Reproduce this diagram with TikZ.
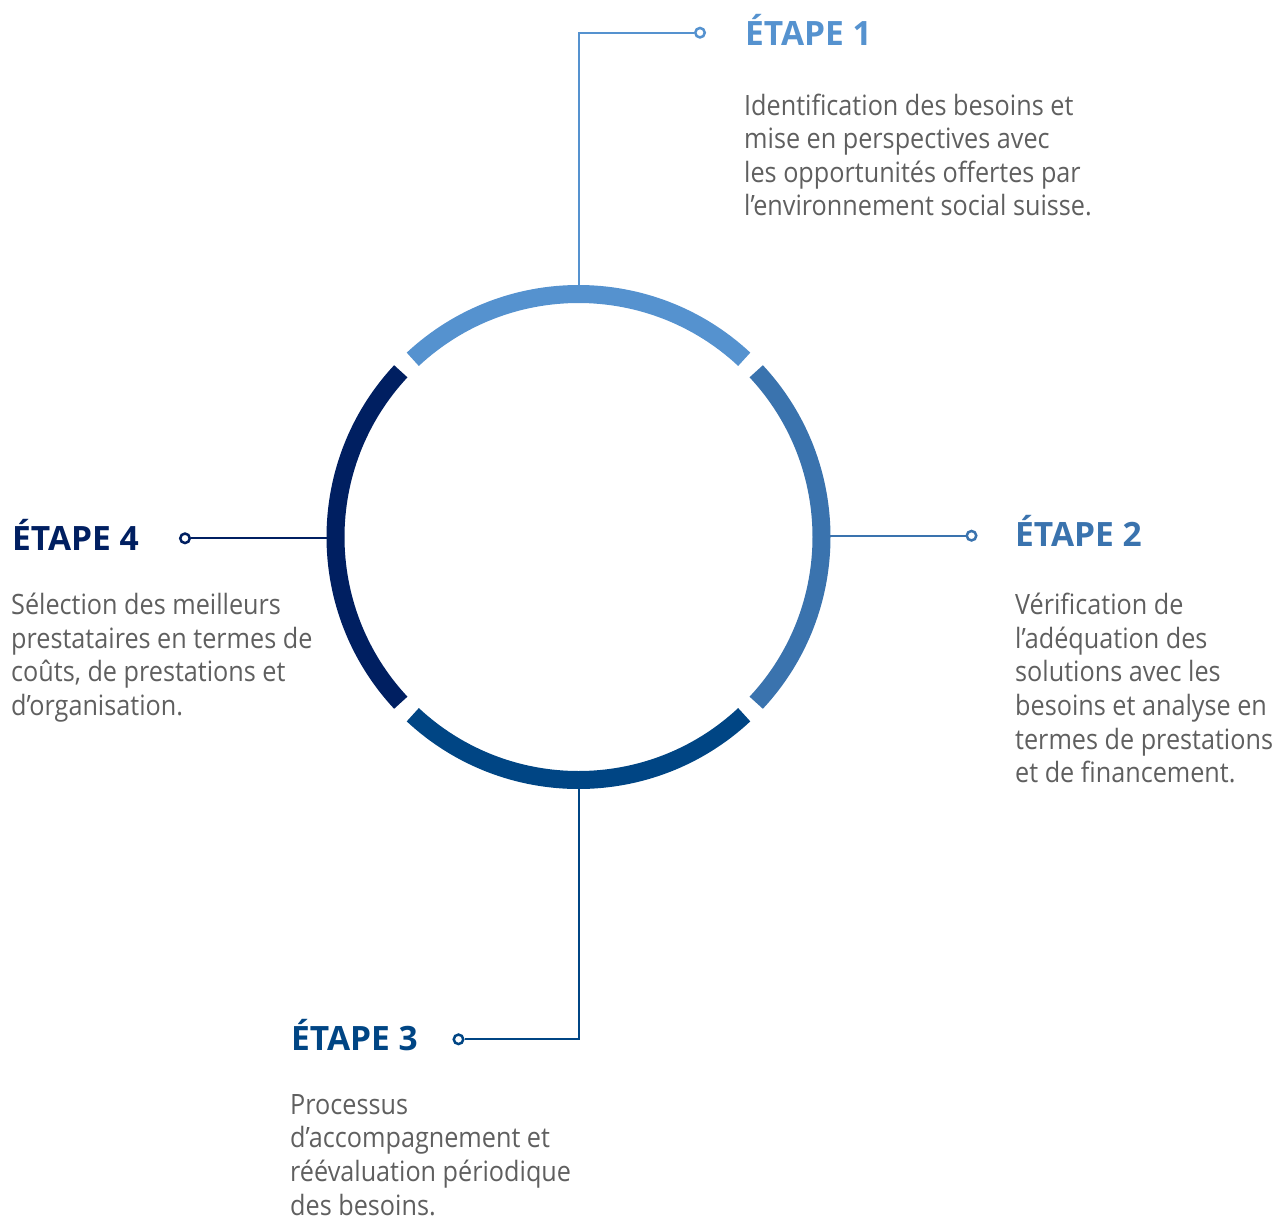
\documentclass[tikz,border=0pt]{standalone}
\usepackage{fontspec}
\setmainfont{Open Sans}
\newfontfamily\bodyfont{Open Sans}[FakeStretch=0.9]
\usetikzlibrary{positioning}

\definecolor{stepone}{RGB}{85,146,207}
\definecolor{steptwo}{RGB}{58,115,174}
\definecolor{stepthree}{RGB}{0,69,132}
\definecolor{stepfour}{RGB}{0,31,97}
\definecolor{txtgray}{RGB}{95,95,95}

\tikzset{
  ring/.style={line width=18pt},
  link/.style={line width=2pt},
  dot/.style={circle, draw=#1, line width=2.5pt, fill=white, inner sep=0pt, minimum size=9.5pt},
  etape/.style={anchor=base west, inner sep=0pt, font=\fontsize{33.5}{33.5}\selectfont\bfseries},
  descr/.style={anchor=north west, inner sep=0pt, align=left, text=txtgray,
    font=\bodyfont\fontsize{28}{33.6}\selectfont},
}

\begin{document}
\begin{tikzpicture}[x=1pt, y=1pt]
\useasboundingbox (0,0) rectangle (1274,-1221);

\coordinate (ctr) at (578.5,-537);
\coordinate (r1) at (579,-294);
\coordinate (r2) at (821,-535.7);
\coordinate (r3) at (579,-779);
\coordinate (r4) at (335,-538.3);

% connectors
\node[dot=stepone] (d1) at (700,-32.7) {};
\node[dot=steptwo] (d2) at (971.5,-535.7) {};
\node[dot=stepthree] (d3) at (458.5,-1039.3) {};
\node[dot=stepfour] (d4) at (185,-538.3) {};
\draw[link, stepone] (r1) |- (d1);
\draw[link, steptwo] (r2) -- (d2);
\draw[link, stepthree] (r3) |- (d3);
\draw[link, stepfour] (r4) -- (d4);

% ring
\foreach \a/\col in {47/stepone, -43/steptwo, -133/stepthree, 137/stepfour}
  \draw[ring, \col] (ctr) ++(\a:243) arc[start angle=\a, end angle=\a+86, radius=243];

% labels
\node[etape, stepone] (e1) at (745,-45) {ÉTAPE 1};
\node[etape, steptwo] (e2) at (1015,-546) {ÉTAPE 2};
\node[etape, stepthree] (e3) at (291,-1050) {ÉTAPE 3};
\node[etape, stepfour] (e4) at (12,-550) {ÉTAPE 4};

\node[descr] (t1) at (744,-93.5) {Identification des besoins et\\mise en perspectives avec\\les opportunités offertes par\\l’environnement social suisse.};
\node[descr] (t2) at (1015,-593) {Vérification de\\l’adéquation des\\solutions avec les\\besoins et analyse en\\termes de prestations\\et de financement.};
\node[descr] (t3) at (290,-1094) {Processus\\d’accompagnement et\\réévaluation périodique\\des besoins.};
\node[descr] (t4) at (11,-593) {Sélection des meilleurs\\prestataires en termes de\\coûts, de prestations et\\d’organisation.};
\end{tikzpicture}
\end{document}
